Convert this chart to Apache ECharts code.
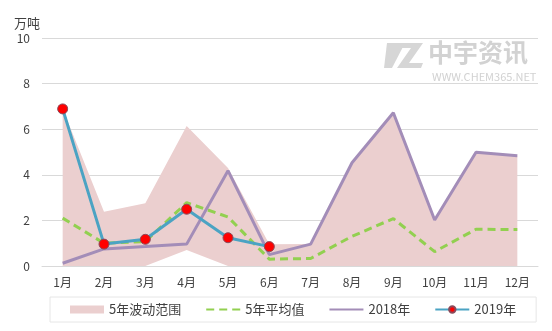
<!DOCTYPE html>
<html><head><meta charset="utf-8">
<script src="https://cdn.jsdelivr.net/npm/echarts@6/dist/echarts.min.js"></script>
<style>html,body{margin:0;padding:0;background:#fff}#c{width:552px;height:331px}</style>
</head><body><div id="c"></div>
<script>
var months = ['1月','2月','3月','4月','5月','6月','7月','8月','9月','10月','11月','12月'];
var rangeLow  = [0, 0, 0, 0.7, 0, 0, 0, 0, 0, 0, 0, 0];
var rangeHigh = [6.9, 2.38, 2.75, 6.14, 4.3, 0.95, 0.96, 4.53, 6.72, 2.02, 4.99, 4.84];
var avg5 = [2.1, 1.0, 1.07, 2.78, 2.15, 0.3, 0.33, 1.3, 2.08, 0.63, 1.61, 1.6];
var y2018 = [0.12, 0.75, 0.85, 0.96, 4.18, 0.5, 0.96, 4.53, 6.72, 2.02, 4.99, 4.84];
var y2019 = [6.89, 0.96, 1.17, 2.49, 1.24, 0.85, null, null, null, null, null, null];
var yTicks = {min: 0, max: 10, interval: 2};

var rangeDiff = rangeHigh.map(function(v, i){ return +(v - rangeLow[i]).toFixed(3); });
var font = '"Noto Sans CJK SC","Microsoft YaHei",sans-serif';
var chart = echarts.init(document.getElementById('c'));
chart.setOption({
  animation: false,
  textStyle: {fontFamily: font},
  grid: {left: 42, right: 14, top: 38, bottom: 65},
  graphic: [
    {type: 'polygon', shape: {points: [[387,43],[405,43],[392,68],[384,68]]}, style: {fill: '#d6d6d6'}, silent: true},
    {type: 'polygon', shape: {points: [[400,43],[423,43],[409,63],[423,63],[421,68],[397,68],[411,48],[398,48]]}, style: {fill: '#d6d6d6'}, silent: true},
    {type: 'text', left: 428, top: 40, style: {text: '中宇资讯', fill: '#d2d2d2', font: 'bold 25px ' + font}, silent: true},
    {type: 'text', left: 432, top: 71, style: {text: 'WWW.CHEM365.NET', fill: '#d2d2d2', font: '11px ' + font}, silent: true}
  ],
  legend: {
    bottom: 9, left: 50,
    padding: [6, 20, 6, 20],
    borderColor: '#e6e6e6', borderWidth: 1,
    itemWidth: 34, itemHeight: 8, itemGap: 24,
    textStyle: {fontSize: 13, color: '#404040', fontFamily: font},
    data: [
      {name: '5年波动范围', icon: 'rect'},
      {name: '5年平均值', itemStyle: {opacity: 0}},
      {name: '2018年', itemStyle: {opacity: 0}},
      {name: '2019年'}
    ]
  },
  xAxis: {
    type: 'category', data: months, boundaryGap: true,
    axisLine: {show: true, lineStyle: {color: '#d9d9d9'}},
    axisTick: {show: false},
    axisLabel: {color: '#404040', fontSize: 12, margin: 10}
  },
  yAxis: {
    type: 'value', min: yTicks.min, max: yTicks.max, interval: yTicks.interval,
    name: '万吨', nameLocation: 'end', nameGap: 8,
    nameTextStyle: {color: '#404040', fontSize: 13, align: 'right', padding: [0, 2, 0, 0]},
    axisLine: {show: false}, axisTick: {show: false},
    axisLabel: {color: '#404040', fontSize: 12, margin: 12},
    splitLine: {lineStyle: {color: '#d9d9d9', width: 1}}
  },
  series: [
    {name: 'low', type: 'line', stack: 'range', data: rangeLow, symbol: 'none',
     lineStyle: {opacity: 0}, areaStyle: {opacity: 0}, silent: true},
    {name: '5年波动范围', type: 'line', stack: 'range', data: rangeDiff, symbol: 'none',
     itemStyle: {color: '#ebcfcf'},
     lineStyle: {opacity: 0}, areaStyle: {color: '#ebcfcf', opacity: 1}},
    {name: '5年平均值', type: 'line', data: avg5, symbol: 'none',
     itemStyle: {color: '#92d050'},
     lineStyle: {color: '#92d050', width: 3, type: [8, 5]}},
    {name: '2018年', type: 'line', data: y2018, symbol: 'none',
     itemStyle: {color: '#a38db8'},
     lineStyle: {color: '#a38db8', width: 3}},
    {name: '2019年', type: 'line', data: y2019, symbol: 'circle', symbolSize: 10, showSymbol: true,
     itemStyle: {color: '#ff0000', borderColor: '#8a4a5a', borderWidth: 1},
     lineStyle: {color: '#4ba3c3', width: 3}}
  ]
});
</script></body></html>
